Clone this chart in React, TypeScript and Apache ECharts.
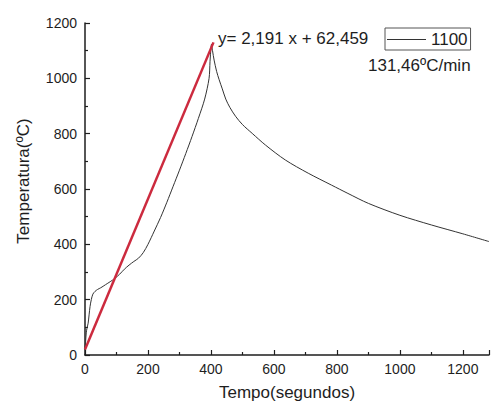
import React, { useEffect, useRef } from "react";
import * as echarts from "echarts";

const measuredTimes = [0, 2, 4, 6, 8, 10, 13, 16, 20, 25, 32, 40, 50, 65, 80, 95, 110, 125, 140, 155, 170, 185, 200, 220, 240, 260, 280, 300, 320, 340, 360, 380, 394, 397, 400, 402, 405, 410, 418, 426, 436, 447, 460, 478, 500, 531, 573, 636, 709, 783, 835, 900, 1000, 1100, 1200, 1283];
const measuredTemps = [20, 50, 80, 95, 105, 115, 145, 175, 200, 220, 230, 237, 243, 254, 265, 277, 292, 310, 325, 338, 350, 370, 400, 448, 497, 552, 610, 668, 728, 790, 855, 925, 1000, 1060, 1110, 1124, 1100, 1066, 1025, 995, 962, 925, 895, 863, 833, 801, 759, 705, 657, 614, 584, 548, 505, 470, 438, 410];

const fitTimes = [0, 408];
const fitTemps = [20, 1130];

const seriesName = "1100";
const equationText = "y= 2,191 x + 62,459";
const rateText = "131,46ºC/min";
const xTitle = "Tempo(segundos)";
const yTitle = "Temperatura(ºC)";

const FONT = 'Arial, "Liberation Sans", sans-serif';
const INK = "#1e1e1e";

export default function App() {
  const ref = useRef<HTMLDivElement>(null);
  useEffect(() => {
    if (!ref.current) return;
    const chart = echarts.init(ref.current, undefined, { renderer: "svg" });
    const measured = measuredTimes.map((t, i) => [t, measuredTemps[i]]);
    const fit = fitTimes.map((t, i) => [t, fitTemps[i]]);
    const axisCommon = {
      axisLine: { show: true, lineStyle: { color: INK, width: 1.5 } },
      axisTick: { show: true, inside: true, length: 5, lineStyle: { color: INK, width: 1.2 } },
      minorTick: { show: true, splitNumber: 2, length: 3, lineStyle: { color: INK, width: 1.2 } },
      splitLine: { show: false },
    };
    chart.setOption({
      animation: false,
      backgroundColor: "#ffffff",
      grid: { left: 85, right: 0, top: 23, bottom: 53, containLabel: false },
      xAxis: {
        type: "value",
        min: 0,
        max: 1283,
        interval: 200,
        ...axisCommon,
        axisLabel: {
          margin: 7,
          fontFamily: FONT,
          fontSize: 14,
          color: INK,
          formatter: (v: number) => (v % 200 === 0 ? String(v) : ""),
        },
        name: xTitle,
        nameLocation: "middle",
        nameGap: 29,
        nameTextStyle: { fontFamily: FONT, fontSize: 17, color: INK },
      },
      yAxis: {
        type: "value",
        min: 0,
        max: 1200,
        interval: 200,
        ...axisCommon,
        axisLabel: {
          margin: 8,
          fontFamily: FONT,
          fontSize: 14,
          color: INK,
          formatter: (v: number) => String(v),
        },
        name: yTitle,
        nameLocation: "middle",
        nameGap: 53,
        nameTextStyle: { fontFamily: FONT, fontSize: 17, color: INK, padding: [0, 0, 0, 16] },
      },
      legend: {
        show: true,
        data: [{ name: seriesName, icon: "rect" }],
        left: 385,
        top: 28,
        orient: "horizontal",
        padding: [3, 3, 2, 2],
        borderColor: "#555",
        borderWidth: 1,
        itemWidth: 39,
        itemHeight: 1,
        itemStyle: { color: "#333333" },
        textStyle: { fontFamily: FONT, fontSize: 17, color: INK },
      },
      graphic: [
        {
          type: "text",
          left: 218,
          top: 30,
          style: { text: equationText, font: `17px ${FONT}`, fill: INK },
        },
        {
          type: "text",
          left: 368,
          top: 57,
          style: { text: rateText, font: `17px ${FONT}`, fill: INK },
        },
      ],
      series: [
        {
          name: seriesName,
          type: "line",
          data: measured,
          symbol: "none",
          smooth: 0.3,
          lineStyle: { color: "#333333", width: 1 },
          itemStyle: { color: "#333333" },
          z: 2,
        },
        {
          name: "fit",
          type: "line",
          data: fit,
          symbol: "none",
          lineStyle: { color: "#cc2a3e", width: 2.5 },
          itemStyle: { color: "#cc2a3e" },
          z: 3,
        },
      ],
    });
    return () => chart.dispose();
  }, []);
  return (
    <div
      ref={ref}
      style={{ position: "fixed", left: 0, top: 0, width: 492, height: 408, background: "#fff" }}
    />
  );
}
